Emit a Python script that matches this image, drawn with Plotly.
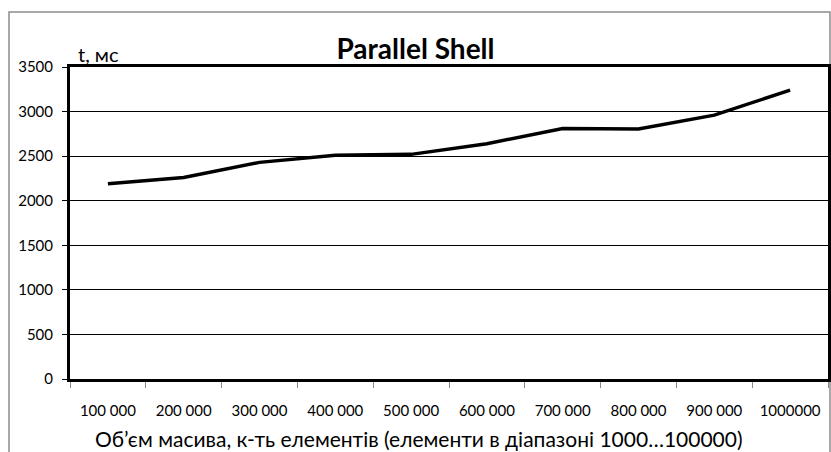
import plotly.graph_objects as go

categories = ["100 000", "200 000", "300 000", "400 000", "500 000",
              "600 000", "700 000", "800 000", "900 000", "1000000"]
times_ms = [2190, 2260, 2430, 2510, 2520, 2640, 2810, 2805, 2960, 3240]
y_ticks = [0, 500, 1000, 1500, 2000, 2500, 3000, 3500]

FONT = "Lato"

fig = go.Figure()
fig.add_trace(go.Scatter(
    x=categories, y=times_ms, mode="lines",
    line=dict(color="black", width=3.5),
    showlegend=False, hoverinfo="skip",
))

fig.update_layout(
    width=831, height=452,
    margin=dict(l=70, r=3, t=67, b=73, autoexpand=False),
    paper_bgcolor="white", plot_bgcolor="white",
    font=dict(family=FONT, color="black"),
    title=dict(text="<b>Parallel Shell</b>", x=0.5, xanchor="center",
               y=1 - 49 / 452, yanchor="middle",
               font=dict(family=FONT, size=28, color="black")),
    showlegend=False,
)

fig.update_xaxes(
    type="category", tickson="boundaries", range=[-0.5, 9.5],
    ticks="outside", ticklen=6, tickcolor="#888", tickwidth=1,
    tickfont=dict(size=15, family=FONT),
    showgrid=False, showline=True, linecolor="black", linewidth=3, mirror=True,
    ticklabelstandoff=16, automargin=False,
)
fig.update_yaxes(
    range=[0, 3500], tickvals=y_ticks,
    ticks="outside", ticklen=5, tickcolor="black", tickwidth=1,
    tickfont=dict(size=15, family=FONT), ticklabelstandoff=6,
    showgrid=True, gridcolor="black", gridwidth=1,
    showline=True, linecolor="black", linewidth=3, mirror=True,
    zeroline=False, automargin=False,
)

# x-axis title
fig.add_annotation(text="Об’єм масива, к-ть елементів (елементи в діапазоні 1000…100000)",
                   xref="paper", yref="paper",
                   x=(419 - 70) / 758, y=(379 - 438) / 312,
                   xanchor="center", yanchor="middle", showarrow=False,
                   borderpad=0,
                   font=dict(size=21, family=FONT, color="black"))

# y-axis label "t, мс"
fig.add_annotation(text="t, мс", xref="paper", yref="paper",
                   x=(76 - 70) / 758, y=(379 - 54) / 312,
                   xanchor="left", yanchor="middle", showarrow=False,
                   font=dict(size=20, family=FONT, color="black"))

# outer chart-area border (gray)
fig.add_shape(type="rect", xref="paper", yref="paper",
              x0=(9 - 70) / 758, x1=(830 - 70) / 758,
              y0=(379 - 470) / 312, y1=(379 - 12) / 312,
              line=dict(color="#8c8c8c", width=1.5), layer="below")

fig.write_html(
    "out.html",
    config={"displayModeBar": False},
    post_script="document.body.style.margin='0';document.body.style.overflow='hidden';",
)
